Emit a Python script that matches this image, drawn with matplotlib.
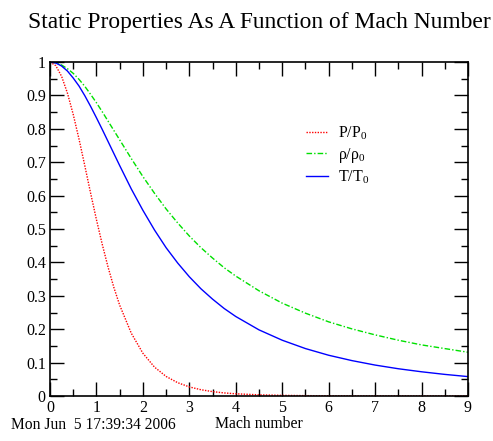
import matplotlib
matplotlib.use("Agg")
import matplotlib.pyplot as plt
from matplotlib.ticker import MultipleLocator

plt.rcParams['font.family'] = ['Liberation Serif', 'DejaVu Serif']
plt.rcParams['mathtext.default'] = 'regular'

# Mach numbers and the values
mach = [0, 0.125, 0.25, 0.375, 0.5, 0.625, 0.75, 0.875, 1, 1.125, 1.25,
        1.375, 1.5, 1.75, 2, 2.25, 2.5, 2.75, 3, 3.25, 3.5, 3.75, 4, 4.5,
        5, 5.5, 6, 6.5, 7, 7.5, 8, 8.5, 9]
p_ratio = [1, 0.989, 0.957, 0.907, 0.843, 0.769, 0.689, 0.607, 0.528,
           0.454, 0.386, 0.325, 0.272, 0.188, 0.128, 0.0865, 0.0585,
           0.0398, 0.0272, 0.0188, 0.0131, 0.0092, 0.0066, 0.0035, 0.0019,
           0.0011, 0.0006, 0.0004, 0.0002, 0.0002, 0.0001, 0.0001, 0.0001]
rho_ratio = [1, 0.998, 0.991, 0.980, 0.966, 0.948, 0.927, 0.903, 0.878,
             0.851, 0.823, 0.795, 0.767, 0.711, 0.657, 0.607, 0.560, 0.518,
             0.479, 0.444, 0.413, 0.384, 0.359, 0.315, 0.278, 0.248, 0.222,
             0.201, 0.183, 0.167, 0.153, 0.142, 0.131]
t_ratio = [1, 0.997, 0.988, 0.973, 0.952, 0.928, 0.899, 0.867, 0.833,
           0.798, 0.762, 0.726, 0.690, 0.620, 0.556, 0.497, 0.444, 0.398,
           0.357, 0.321, 0.290, 0.262, 0.238, 0.198, 0.167, 0.142, 0.122,
           0.106, 0.0926, 0.0816, 0.0725, 0.0647, 0.0581]

fig = plt.figure(figsize=(4.93, 4.41), dpi=100)
ax = fig.add_axes([50 / 493, 45 / 441, 418 / 493, 334 / 441])

ax.plot(mach, p_ratio, color='red', linestyle=(0, (1, 1)), linewidth=1.0,
        label='P/P$_0$')
ax.plot(mach, rho_ratio, color='#00e000', linestyle=(0, (4, 1.5, 1, 1.5)),
        linewidth=1.0, label=r'$\rho$/$\rho_0$')
ax.plot(mach, t_ratio, color='blue', linestyle='-', linewidth=1.0,
        label='T/T$_0$')

ax.set_xlim(0, 9)
ax.set_ylim(0, 1)
ax.xaxis.set_major_locator(MultipleLocator(1))
ax.xaxis.set_minor_locator(MultipleLocator(0.5))
ax.set_yticks([i / 10 for i in range(11)])
ax.set_yticklabels(['0', '0.1', '0.2', '0.3', '0.4', '0.5', '0.6', '0.7',
                    '0.8', '0.9', '1'])
ax.yaxis.set_minor_locator(MultipleLocator(0.05))
ax.tick_params(which='both', direction='in', top=True, right=True,
               labelsize=11.5, pad=3)
ax.tick_params(which='major', length=10, width=1)
ax.tick_params(which='minor', length=5, width=1)
for s in ax.spines.values():
    s.set_linewidth(1.2)

ax.set_xlabel('Mach number', fontsize=11.3, labelpad=0)
fig.text(259 / 493, 0.972, 'Static Properties As A Function of Mach Number',
         ha='center', va='top', fontsize=16.9)
fig.text(11 / 493, 0.036, 'Mon Jun  5 17:39:34 2006', ha='left',
         va='center', fontsize=11.2)

ax.legend(loc='upper left', bbox_to_anchor=(0.578, 0.855), frameon=False,
          fontsize=11.5, handlelength=1.4, handletextpad=0.6,
          labelspacing=0.23)

fig.savefig('out.png', dpi=100)
